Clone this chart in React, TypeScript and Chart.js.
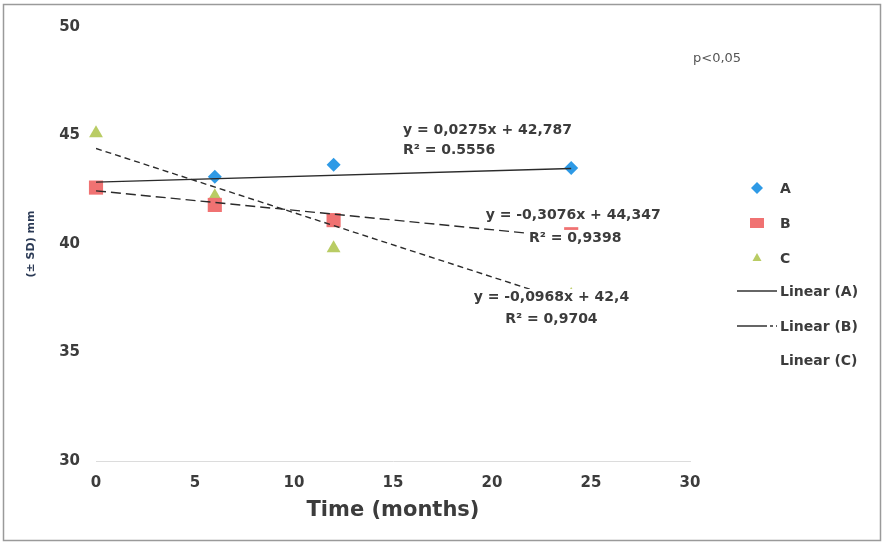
import React, { useEffect, useRef } from 'react';
import { Chart, registerables } from 'chart.js';

Chart.register(...registerables);

// ---- data ----
const monthsA = [6, 12, 24];
const valuesA = [43.1, 43.65, 43.5];
const monthsBC = [0, 6, 12, 24];
const valuesB = [42.6, 41.8, 41.1, 40.45];
const valuesC = [45.1, 42.2, 39.8, 37.65];

const trendMonths = [0, 24];
const trendA = [42.85, 43.48];
const trendB = [42.45, 40.3];
const trendC = [44.4, 37.3];

const seriesNames = ['A', 'B', 'C'];
const trendNames = ['Linear (A)', 'Linear (B)', 'Linear (C)'];

const eqTexts = [
  'y = 0,0275x + 42,787',
  'R² = 0.5556',
  'y = -0,3076x + 44,347',
  'R² = 0,9398',
  'y = -0,0968x + 42,4',
  'R² = 0,9704',
];
const eqX = [15.5, 15.5, 24.1, 24.2, 23.0, 23.0];
const eqY = [45.25, 44.33, 41.34, 40.28, 37.56, 36.54];
const eqAlign = ['left', 'left', 'center', 'center', 'center', 'center'];

const noteText = 'p<0,05';
const xTitle = 'Time (months)';
const yTitle = '(± SD) mm';

const COL_A = '#2e9ae6';
const COL_B = '#f07272';
const COL_C = '#b9cc64';
const TXT = '#3c3c3c';
const FONT = '"DejaVu Sans", sans-serif';

const pairs = (xs: number[], ys: number[]) => xs.map((x, i) => ({ x, y: ys[i] }));

const overlayPlugin = {
  id: 'overlay',
  afterDatasetsDraw(chart: any) {
    const { ctx } = chart;
    const xs = chart.scales.x;
    const ys = chart.scales.y;
    ctx.save();
    ctx.font = `bold 14px ${FONT}`;
    ctx.textBaseline = 'middle';
    ctx.textAlign = 'left';
    eqTexts.forEach((t, i) => {
      const px = xs.getPixelForValue(eqX[i]);
      const py = ys.getPixelForValue(eqY[i]);
      const w = ctx.measureText(t).width;
      const left = eqAlign[i] === 'left' ? px : px - w / 2;
      ctx.fillStyle = '#ffffff';
      ctx.fillRect(left - 2, py - 8, w + 4, 16);
      ctx.fillStyle = TXT;
      ctx.fillText(t, left, py);
    });
    ctx.restore();
  },
  afterDraw(chart: any) {
    const { ctx } = chart;
    ctx.save();
    const mx = 757;
    const tx = 780;
    const rows = [188, 223, 258, 291, 326, 360];
    ctx.font = `bold 14px ${FONT}`;
    ctx.textBaseline = 'middle';
    ctx.textAlign = 'left';
    ctx.fillStyle = COL_A;
    ctx.beginPath();
    ctx.moveTo(mx, rows[0] - 6);
    ctx.lineTo(mx + 6, rows[0]);
    ctx.lineTo(mx, rows[0] + 6);
    ctx.lineTo(mx - 6, rows[0]);
    ctx.closePath();
    ctx.fill();
    ctx.fillStyle = COL_B;
    ctx.fillRect(mx - 7, rows[1] - 5, 14, 10);
    ctx.fillStyle = COL_C;
    ctx.beginPath();
    ctx.moveTo(mx, rows[2] - 5);
    ctx.lineTo(mx + 4.5, rows[2] + 3);
    ctx.lineTo(mx - 4.5, rows[2] + 3);
    ctx.closePath();
    ctx.fill();
    ctx.strokeStyle = '#333333';
    ctx.lineWidth = 1.3;
    ctx.beginPath();
    ctx.moveTo(737, rows[3]);
    ctx.lineTo(777, rows[3]);
    ctx.stroke();
    ctx.setLineDash([30, 3, 3, 3]);
    ctx.beginPath();
    ctx.moveTo(737, rows[4]);
    ctx.lineTo(777, rows[4]);
    ctx.stroke();
    ctx.setLineDash([]);
    ctx.fillStyle = TXT;
    const labels = [...seriesNames, ...trendNames];
    labels.forEach((t, i) => ctx.fillText(t, tx, rows[i] + 1));
    ctx.font = `13px ${FONT}`;
    ctx.fillStyle = '#555555';
    ctx.fillText(noteText, 693, 59);
    ctx.strokeStyle = '#9a9a9a';
    ctx.lineWidth = 1.5;
    ctx.strokeRect(3.5, 4.5, 877, 536);
    ctx.restore();
  },
};

export default function App() {
  const ref = useRef<HTMLCanvasElement | null>(null);

  useEffect(() => {
    if (!ref.current) return;
    const chart = new Chart(ref.current, {
      type: 'scatter',
      data: {
        datasets: [
          {
            label: trendNames[0],
            data: pairs(trendMonths, trendA),
            showLine: true,
            borderColor: '#2b2b2b',
            borderWidth: 1.4,
            pointRadius: 0,
            order: 0,
          },
          {
            label: trendNames[1],
            data: pairs(trendMonths, trendB),
            showLine: true,
            borderColor: '#2b2b2b',
            borderWidth: 1.4,
            borderDash: [10, 5],
            pointRadius: 0,
            order: 0,
          },
          {
            label: trendNames[2],
            data: pairs(trendMonths, trendC),
            showLine: true,
            borderColor: '#2b2b2b',
            borderWidth: 1.4,
            borderDash: [6, 4],
            pointRadius: 0,
            order: 0,
          },
          {
            label: seriesNames[2],
            data: pairs(monthsBC, valuesC),
            pointStyle: 'triangle',
            pointRadius: 8,
            backgroundColor: COL_C,
            borderColor: COL_C,
            borderWidth: 0,
            clip: false,
            order: 3,
          },
          {
            label: seriesNames[1],
            data: pairs(monthsBC, valuesB),
            pointStyle: 'rect',
            pointRadius: 10,
            backgroundColor: COL_B,
            borderColor: COL_B,
            borderWidth: 0,
            clip: false,
            order: 2,
          },
          {
            label: seriesNames[0],
            data: pairs(monthsA, valuesA),
            pointStyle: 'rectRot',
            pointRadius: 7,
            backgroundColor: COL_A,
            borderColor: COL_A,
            borderWidth: 0,
            clip: false,
            order: 1,
          },
        ],
      },
      options: {
        animation: false,
        responsive: false,
        maintainAspectRatio: false,
        layout: { padding: { left: 0, right: 194, top: 27, bottom: 0 } },
        plugins: {
          legend: { display: false },
          tooltip: { enabled: false },
        },
        scales: {
          x: {
            type: 'linear',
            min: 0,
            max: 30,
            grid: { display: false, drawTicks: false },
            border: { display: true, color: '#dcdcdc', width: 1 },
            ticks: {
              stepSize: 5,
              padding: 13,
              color: TXT,
              font: { family: FONT, size: 15, weight: 'bold' },
            },
            title: {
              display: true,
              text: xTitle,
              color: TXT,
              font: { family: FONT, size: 21, weight: 'bold' },
              padding: { top: 0, bottom: 22 },
            },
            afterFit: (s: any) => {
              s.height = 84;
            },
          },
          y: {
            type: 'linear',
            min: 30,
            max: 50,
            grid: { display: false, drawTicks: false },
            border: { display: false },
            ticks: {
              stepSize: 5,
              padding: 16,
              color: TXT,
              font: { family: FONT, size: 15, weight: 'bold' },
            },
            title: {
              display: true,
              text: yTitle,
              color: '#2b3a55',
              font: { family: FONT, size: 11, weight: 'bold' },
              padding: { top: 25, bottom: 0 },
            },
            afterFit: (s: any) => {
              s.width = 96;
            },
          },
        },
      },
      plugins: [overlayPlugin],
    } as any);
    return () => chart.destroy();
  }, []);

  return (
    <canvas
      ref={ref}
      width={884}
      height={545}
      style={{ position: 'absolute', left: 0, top: 0, width: 884, height: 545, background: '#fff' }}
    />
  );
}
